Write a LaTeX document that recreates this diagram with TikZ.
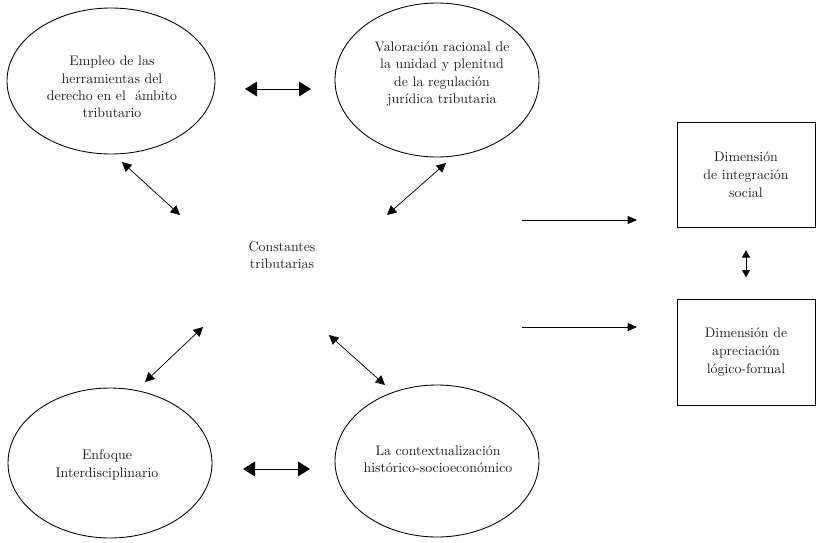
\documentclass[tikz,border=0pt]{standalone}
\usetikzlibrary{arrows.meta,shapes.geometric}

\definecolor{inkgray}{RGB}{28,28,40}

\tikzset{
  oval/.style={draw,ellipse,line width=0.65pt,inner sep=0pt},
  ovaltext/.style={align=center,text=inkgray,font=\fontsize{10.4}{13}\selectfont},
  dimbox/.style={draw,rectangle,line width=0.75pt,minimum width=103.5pt,align=center,
    text=inkgray,font=\fontsize{10.4}{13.5}\selectfont},
  bigtwoway/.style={{Triangle[length=9pt,width=11pt]}-{Triangle[length=9pt,width=11pt]},line width=0.6pt},
  diagtwoway/.style={{Triangle[length=7pt,width=7pt]}-{Triangle[length=7pt,width=7pt]},line width=0.55pt},
  oneway/.style={-{Triangle[length=7pt,width=6pt]},line width=0.6pt},
  smalltwoway/.style={{Triangle[length=5.5pt,width=6pt]}-{Triangle[length=5.5pt,width=6pt]},line width=0.6pt}
}

\begin{document}
\begin{tikzpicture}[x=0.75pt,y=-0.75pt]
  \useasboundingbox (0,0) rectangle (822,543);

  % the four ellipses
  \node[oval,minimum width=156pt,minimum height=109.5pt] (empleo) at (111,81) {};
  \node[oval,minimum width=153pt,minimum height=115.5pt] (valoracion) at (437,80) {};
  \node[oval,minimum width=153pt,minimum height=112.5pt] (enfoque) at (110,463) {};
  \node[oval,minimum width=153pt,minimum height=114pt] (contexto) at (437,461) {};

  \node[ovaltext] (empleotxt) at (112,87) {Empleo de las\\herramientas del\\derecho en el \ ámbito\\tributario};
  \node[ovaltext] (valoraciontxt) at (442,74) {Valoración racional de\\la unidad y plenitud\\de la regulación\\jurídica tributaria};
  \node[ovaltext] (enfoquetxt) at (107,465) {Enfoque\\Interdisciplinario};
  \node[ovaltext] (contextotxt) at (438,459) {La contextualización\\histórico-socioeconómico};

  \node[ovaltext] (constantes) at (282,255) {Constantes\\tributarias};

  % the two dimensions
  \node[dimbox,minimum height=78.75pt] (dimsocial) at (746,174.5) {Dimensión\\de integración\\social};
  \node[dimbox,minimum height=80pt] (dimlogica) at (746,352.5) {Dimensión de\\apreciación\\lógico-formal};

  % free ends of the connectors
  \coordinate (topl) at (245,89);   \coordinate (topr) at (311,89);
  \coordinate (botl) at (243,469);  \coordinate (botr) at (310,469);
  \coordinate (tl1) at (122,162);   \coordinate (tl2) at (180,215);
  \coordinate (tr1) at (446,163);   \coordinate (tr2) at (387,215);
  \coordinate (bl1) at (203,327);   \coordinate (bl2) at (145,382);
  \coordinate (br1) at (329,335);   \coordinate (br2) at (385,385);
  \coordinate (up1) at (522,220);   \coordinate (up2) at (637,220);
  \coordinate (dn1) at (522,327);   \coordinate (dn2) at (637,327);

  \draw[bigtwoway] (topl) -- (topr);
  \draw[bigtwoway] (botl) -- (botr);
  \foreach \a/\b in {tl1/tl2,tr1/tr2,bl1/bl2,br1/br2}{
    \draw[diagtwoway] (\a) -- (\b);
  }
  \draw[oneway] (up1) -- (up2);
  \draw[oneway] (dn1) -- (dn2);
  \draw[smalltwoway,shorten <=17pt,shorten >=16pt] (dimsocial.south) -- (dimlogica.north);

\end{tikzpicture}
\end{document}
